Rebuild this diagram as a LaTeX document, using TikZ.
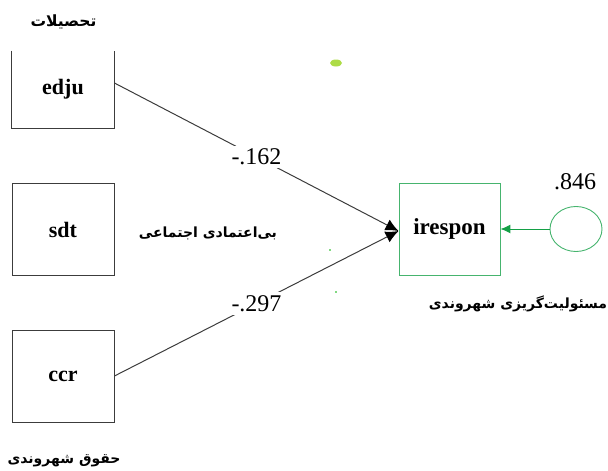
\documentclass[tikz,border=0pt]{standalone}
\usepackage{fontspec}
\setmainfont{Liberation Serif}
\newfontfamily\arabicfont[Script=Arabic]{DejaVu Sans}
\TeXXeTstate=1
\usetikzlibrary{arrows.meta,shapes.geometric,calc}
\definecolor{boxgreen}{RGB}{70,180,110}
\definecolor{arrgreen}{RGB}{20,160,70}
\definecolor{lineg}{RGB}{60,60,60}
\begin{document}
\begin{tikzpicture}[x=1pt,y=-1pt,
  varbox/.style={draw=lineg,line width=0.9pt,minimum width=102pt,minimum height=92pt,inner sep=0pt,font=\fontsize{22}{24}\selectfont\bfseries},
  coef/.style={fill=white,inner sep=3pt,font=\fontsize{24}{26}\selectfont},
  fa/.style={font=\arabicfont\fontsize{14}{16}\selectfont\bfseries},
  path/.style={draw=lineg,line width=1pt},
  tip/.style={-{Latex[length=13pt,width=12pt,fill=black,color=black]}}]
\useasboundingbox (0,0) rectangle (608,471);
% edju box (top edge cut)
\node[varbox,draw=none,minimum height=77pt] (edju) at (63,89.5) {edju};
\draw[lineg,line width=0.9pt] (edju.north west) -- (edju.south west) -- (edju.south east) -- (edju.north east);
\node[varbox] (sdt) at (63,229.5) {sdt};
\node[varbox] (ccr) at (63,376) {ccr};
\node[varbox,draw=boxgreen,minimum height=92pt,minimum width=101pt,font=\fontsize{23}{25}\selectfont\bfseries] (irespon) at (449.5,229) {irespon};
\node[ellipse,draw=boxgreen,line width=0.9pt,minimum width=52pt,minimum height=45pt,inner sep=0pt] (err) at (576,229) {};
\coordinate (edjuout) at ($(edju.east)+(0,-6.5)$);
\coordinate (tgt) at ($(irespon.west)+(0,2)$);
\draw[path,tip] (edjuout) -- node[coef,pos=0.5] {-.162} (tgt);
\draw[path,tip] (ccr.east) -- node[coef,pos=0.5] {-.297} (tgt);
\draw[arrgreen,line width=1pt,-{Latex[length=10pt,width=9pt]}] (err.west) -- (irespon.east);
\node[font=\fontsize{24}{26}\selectfont] (v846) at (575,182) {.846};
% labels
\node[fa,font=\arabicfont\fontsize{15.5}{17}\selectfont\bfseries] (l1) at (63.5,22) {\beginR تحصیلات\endR};
\node[fa] (l2) at (208,233) {\beginR بی‌اعتمادی اجتماعی\endR};
\node[fa] (l3) at (518,304) {\beginR مسئولیت‌گریزی شهروندی\endR};
\node[fa] (l4) at (64,461) {\beginR حقوق شهروندی\endR};
% small artifacts
\fill[yellow!60!green!80] (336,63) ellipse (6pt and 3.5pt);
\fill[green!70!black] (330,250) circle (0.8pt);
\fill[green!70!black] (336,292) circle (0.8pt);
\end{tikzpicture}
\end{document}
